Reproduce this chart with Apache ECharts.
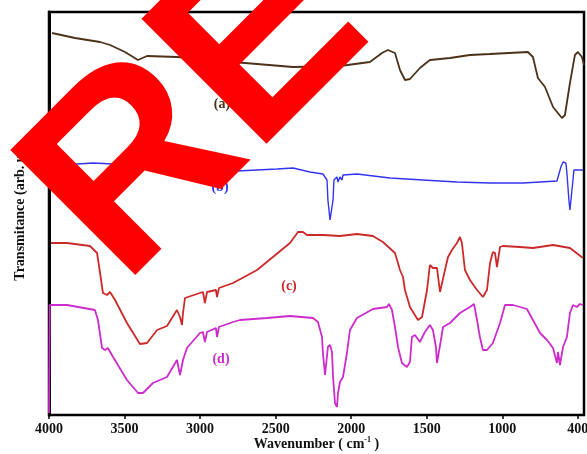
<!DOCTYPE html>
<html><head><meta charset="utf-8">
<script src="https://cdn.jsdelivr.net/npm/echarts@6/dist/echarts.min.js"></script>
<style>html,body{margin:0;padding:0;background:#fff}#c{width:587px;height:454px}</style>
</head><body><div id="c"></div>
<script>
// x tick positions and their printed labels
const tickValues = [4000,3500,3000,2500,2000,1500,1000,500];
const tickLabels = ['4000','3500','3000','2500','2000','1500','1000','400'];

// (a) brown trace
const aWn  = [3980,3828,3662,3596,3497,3411,3351,3153,2782,2385,2074,1876,1796,1757,1710,1677,1644,1611,1545,1479,1346,1214,1081,830,797,764,717,664,605,585,552,519,499,473,459];
const aVal = [382,377,373,370,363,355,359,358,353,348,349,353,362,365,362,345,335,336,347,355,357,360,361,363,358,337,328,308,297,300,332,360,363,358,350];

// (b) blue trace
const bWn  = [3993,3815,3709,3300,2900,2756,2491,2385,2273,2187,2160,2154,2140,2127,2120,2114,2094,2087,2074,2061,2054,1962,1743,1525,1300,1081,863,638,625,612,598,579,572,559,552,545,532,526,506,466];
const bVal = [251,251,252,249,246,244,246,247,243,241,235,215,195,195,215,235,238,233,238,235,240,241,237,235,233,232,232,234,235,248,253,252,242,215,205,207,235,245,245,245];

// (c) red trace
const cWn  = [3987,3881,3729,3682,3662,3643,3616,3596,3563,3484,3398,3351,3285,3219,3153,3133,3120,3113,3100,3001,2981,2968,2954,2895,2888,2875,2782,2623,2518,2405,2352,2319,2293,2187,2074,1962,1856,1790,1710,1677,1657,1644,1611,1558,1531,1498,1479,1459,1432,1412,1399,1379,1359,1333,1300,1280,1267,1247,1214,1167,1128,1101,1081,1062,1048,1035,1015,995,883,797,664,552,466];
const cVal = [172,172,169,162,142,122,120,123,115,92,71,72,85,89,105,98,90,102,117,122,123,112,123,125,118,127,132,145,158,172,183,183,180,180,179,181,179,173,162,145,138,125,108,95,98,125,150,147,147,123,123,145,158,165,172,178,172,145,135,125,118,125,152,163,162,148,168,169,168,167,170,167,157];

// (d) magenta trace
const dWn  = [4000,3995,3980,3881,3696,3676,3649,3629,3610,3576,3484,3411,3378,3312,3219,3153,3133,3120,3113,3087,3001,2981,2968,2954,2895,2888,2875,2782,2736,2557,2405,2253,2220,2193,2187,2173,2160,2154,2140,2127,2120,2107,2094,2087,2074,2054,2028,2008,1962,1856,1763,1750,1730,1710,1690,1664,1631,1611,1598,1578,1545,1512,1479,1459,1439,1432,1419,1406,1392,1346,1280,1214,1187,1167,1148,1128,1101,1062,1015,982,929,837,797,750,704,664,638,631,618,598,572,552,532,506,486,466];
const dVal = [2,110,110,110,105,95,67,65,67,58,35,22,22,32,38,55,40,40,55,67,82,83,73,83,87,78,88,93,95,97,99,97,93,78,62,40,40,68,70,63,38,12,8,22,33,38,62,85,97,106,108,111,105,88,68,52,48,53,78,80,73,83,90,85,68,52,52,75,88,92,102,108,111,95,78,65,65,72,92,110,110,106,95,82,75,67,52,63,50,68,78,102,110,108,111,110];

const seriesNames = ['(a)','(b)','(c)','(d)'];
const seriesColors = ['#4b3219','#3434f0','#cc2a2a','#cc2ccc'];
const zip = (w, v) => w.map((x, i) => [x, v[i]]);
const allData = [zip(aWn,aVal), zip(bWn,bVal), zip(cWn,cVal), zip(dWn,dVal)];

const serif = '"Liberation Serif", "DejaVu Serif", serif';
const chart = echarts.init(document.getElementById('c'), null, {renderer:'canvas'});
chart.setOption({
  animation: false,
  backgroundColor: '#fff',
  grid: {left: 49, right: 3, top: 12, bottom: 39, show: true, borderColor: '#000', borderWidth: 2.5,
    containLabel: false, outerBoundsMode: 'none'},
  xAxis: {
    type: 'value', inverse: true, min: 459, max: 4000,
    name: 'Wavenumber ( cm{s|-1} )', nameLocation: 'middle', nameGap: 21, nameMoveOverlap: false,
    nameTextStyle: {fontFamily: serif, fontWeight: 'bold', fontSize: 14, color: '#111',
      rich: {s: {fontFamily: serif, fontWeight: 'bold', fontSize: 8, verticalAlign: 'top', padding: [0,0,8,0]}}},
    axisLine: {lineStyle: {color: '#000', width: 2}},
    axisTick: {show: true, customValues: tickValues, length: 4, lineStyle: {color: '#000', width: 1.5}},
    axisLabel: {customValues: tickValues, margin: 7, fontFamily: serif, fontWeight: 'bold', fontSize: 14, color: '#111',
      formatter: v => tickLabels[tickValues.indexOf(v)]},
    splitLine: {show: false}
  },
  yAxis: {
    type: 'value', min: 0, max: 403,
    name: 'Transmitance (arb. u.)', nameLocation: 'middle', nameGap: 22, nameMoveOverlap: false,
    nameTextStyle: {fontFamily: serif, fontWeight: 'bold', fontSize: 14, color: '#111'},
    axisLine: {show: true, lineStyle: {color: '#000', width: 3}},
    axisTick: {show: false}, axisLabel: {show: false}, splitLine: {show: false}
  },
  series: allData.map((d, i) => ({
    name: seriesNames[i], type: 'line', data: d, showSymbol: false, symbol: 'none',
    lineStyle: {color: seriesColors[i], width: i === 1 ? 1.4 : 1.8}, z: 3
  })),
  graphic: [
    {type:'text', x: 222, y: 104, style: {text: seriesNames[0], fill: seriesColors[0], font: 'bold 14px ' + serif, align: 'center', verticalAlign: 'middle'}},
    {type:'text', x: 220, y: 187, style: {text: seriesNames[1], fill: seriesColors[1], font: 'bold 14px ' + serif, align: 'center', verticalAlign: 'middle'}},
    {type:'text', x: 289, y: 286, style: {text: seriesNames[2], fill: seriesColors[2], font: 'bold 14px ' + serif, align: 'center', verticalAlign: 'middle'}},
    {type:'text', x: 221, y: 359, style: {text: seriesNames[3], fill: seriesColors[3], font: 'bold 14px ' + serif, align: 'center', verticalAlign: 'middle'}},
    {type:'text', x: 73, y: 237, rotation: Math.PI/4, z: 100,
      style: {text: 'RE', fill: '#ff0000', font: 'bold 257px "Liberation Sans", Arial, sans-serif', align: 'left', verticalAlign: 'middle'}}
  ]
});
</script></body></html>
